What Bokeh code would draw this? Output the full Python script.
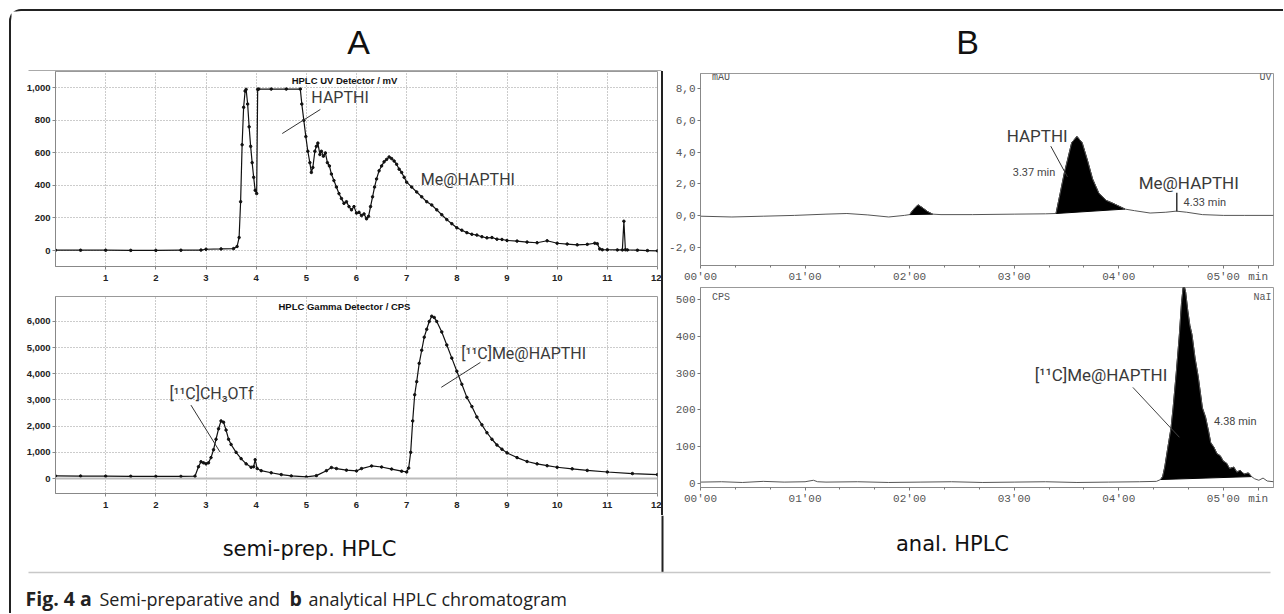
from bokeh.plotting import figure
from bokeh.layouts import column, row
from bokeh.models import (Range1d, FixedTicker, NumeralTickFormatter,
                          CustomJSTickFormatter, Span, Spacer)
from bokeh.core.properties import value
from bokeh.embed import file_html
from bokeh.resources import INLINE

# ---------------- data ----------------
# A: semi-preparative HPLC, UV detector (time in min, signal in mV)
a_uv_time = [0.0, 0.5, 1.0, 1.5, 2.0, 2.5, 2.9, 3.0, 3.3, 3.55, 3.62, 3.66, 3.69, 3.72, 3.75,
             3.78, 3.80, 3.83, 3.86, 3.89, 3.92, 3.95, 3.98, 4.01, 4.03, 4.05, 4.3, 4.6, 4.88,
             4.91, 4.95, 4.99, 5.03, 5.07, 5.10, 5.13, 5.17, 5.20, 5.23, 5.27, 5.30, 5.34, 5.38,
             5.42, 5.46, 5.50, 5.55, 5.60, 5.65, 5.70, 5.75, 5.80, 5.85, 5.90, 5.95, 6.00, 6.05,
             6.10, 6.15, 6.20, 6.24, 6.28, 6.32, 6.36, 6.40, 6.45, 6.50, 6.55, 6.60, 6.65, 6.70,
             6.75, 6.80, 6.85, 6.90, 6.95, 7.00, 7.1, 7.2, 7.3, 7.4, 7.5, 7.6, 7.7, 7.8, 7.9, 8.0,
             8.1, 8.2, 8.3, 8.4, 8.5, 8.6, 8.7, 8.8, 8.9, 9.0, 9.2, 9.4, 9.6, 9.8, 10.0, 10.2,
             10.4, 10.6, 10.75, 10.8, 10.85, 10.9, 11.0, 11.2, 11.3, 11.33, 11.36, 11.4, 11.6,
             11.8, 12.0]
a_uv_mv = [2, 2, 2, 1, 1, 2, 3, 8, 10, 12, 25, 80, 300, 650, 880,
           980, 990, 900, 760, 640, 540, 450, 370, 350, 990, 992, 992, 992, 992,
           900, 800, 700, 610, 540, 480, 510, 610, 640, 660, 590, 610, 580, 600,
           540, 520, 470, 430, 390, 350, 320, 290, 300, 270, 250, 270, 230, 235,
           215, 225, 195, 210, 270, 330, 390, 440, 490, 520, 545, 560, 575, 565,
           550, 530, 500, 480, 450, 420, 390, 360, 330, 300, 280, 250, 220, 190, 165, 140,
           125, 110, 100, 95, 85, 78, 80, 70, 68, 62, 58, 52, 48, 60, 45, 40,
           35, 38, 45, 42, 10, 5, 5, 4, 4, 180, 5, 4, 2,
           0, -2]

# A: semi-preparative HPLC, gamma detector (CPS)
a_gamma_time = [0, 0.5, 1, 1.5, 2, 2.5, 2.78, 2.85, 2.9, 2.95, 3.0, 3.05, 3.1, 3.15, 3.2, 3.25,
                3.3, 3.35, 3.4, 3.45, 3.5, 3.6, 3.7, 3.8, 3.9, 3.95, 3.98, 4.02, 4.1, 4.3, 4.5,
                4.7, 5.0, 5.2, 5.4, 5.5, 5.6, 5.8, 6.0, 6.1, 6.3, 6.5, 6.7, 6.9, 7.0, 7.04, 7.08,
                7.12, 7.16, 7.2, 7.25, 7.3, 7.35, 7.4, 7.45, 7.5, 7.55, 7.6, 7.7, 7.8, 7.9, 8.0,
                8.1, 8.2, 8.3, 8.4, 8.5, 8.6, 8.7, 8.8, 8.9, 9.0, 9.2, 9.4, 9.6, 9.8, 10.0, 10.3,
                10.6, 11.0, 11.5, 12.0]
a_gamma_cps = [100, 95, 90, 85, 80, 80, 90, 450, 640, 600, 560, 600, 800, 1100, 1500, 1900,
               2200, 2150, 1850, 1500, 1300, 1000, 760, 560, 430, 450, 720, 380, 300, 220, 150,
               100, 60, 110, 300, 420, 380, 320, 290, 380, 480, 440, 360, 280, 250, 400, 1000,
               2200, 3200, 3700, 4400, 4900, 5400, 5700, 6000, 6200, 6150, 6000, 5600, 5100, 4600, 4100,
               3600, 3100, 2750, 2350, 2050, 1750, 1500, 1280, 1120, 980, 800, 650, 560, 490, 430, 370,
               310, 250, 190, 150]

# B: analytical HPLC, UV detector (time in min, signal in mAU)
b_uv_time = [0.0, 0.3, 0.6, 0.9, 1.2, 1.4, 1.6, 1.8, 1.95, 2.0, 2.04, 2.08, 2.12, 2.17, 2.22,
             2.3, 2.6, 3.0, 3.3, 3.40, 3.44, 3.48, 3.51, 3.55, 3.60, 3.65, 3.70, 3.75, 3.81,
             3.88, 3.95, 4.06, 4.15, 4.3, 4.45, 4.55, 4.65, 4.8, 5.0, 5.2, 5.48]
b_uv_mau = [-0.05, -0.1, -0.05, 0.0, 0.08, 0.12, 0.03, -0.1, 0.0, 0.05, 0.4, 0.67, 0.5, 0.25, 0.08,
            0.05, 0.05, 0.08, 0.1, 0.12, 1.4, 2.7, 3.5, 4.6, 5.0, 4.6, 3.5, 2.3, 1.4,
            0.95, 0.75, 0.4, 0.3, 0.15, 0.2, 0.27, 0.2, 0.05, 0.0, 0.0, 0.0]
b_uv_peaks = [(2.0, 2.22), (3.40, 4.06)]

# B: analytical HPLC, NaI gamma detector (CPS)
b_gamma_time = [0.0, 0.2, 0.4, 0.6, 0.8, 1.0, 1.08, 1.12, 1.2, 1.5, 1.8, 2.1, 2.4, 2.7, 3.0, 3.3,
                3.6, 3.9, 4.2, 4.36, 4.40, 4.42, 4.44, 4.47, 4.50, 4.52, 4.55, 4.58, 4.60, 4.62,
                4.64, 4.66, 4.68, 4.70, 4.73, 4.76, 4.80, 4.83, 4.86, 4.88, 4.91, 4.94, 4.97,
                5.00, 5.03, 5.06, 5.10, 5.13, 5.16, 5.20, 5.24, 5.27, 5.30, 5.34, 5.38, 5.42, 5.48]
b_gamma_cps = [3, 4, 2, 5, 3, 4, 8, 4, 3, 4, 2, 3, 4, 2, 3, 4,
               2, 3, 4, 5, 10, 18, 44, 98, 150, 205, 300, 405, 490, 545,
               520, 470, 430, 405, 340, 290, 205, 180, 140, 110, 98, 80, 75,
               60, 55, 40, 44, 30, 35, 25, 28, 18, 12, 8, 14, 6, 4]
b_gamma_peaks = [(4.40, 5.27)]

# ticks
a_x_ticks = [1, 2, 3, 4, 5, 6, 7, 8, 9, 10, 11, 12]
a_uv_y_ticks = [0, 200, 400, 600, 800, 1000]
a_gamma_y_ticks = [0, 1000, 2000, 3000, 4000, 5000, 6000]
b_x_ticks = [0, 1, 2, 3, 4, 5, 5.3333]
b_x_minor = [0.3333, 0.6667, 1.3333, 1.6667, 2.3333, 2.6667, 3.3333, 3.6667, 4.3333, 4.6667]
b_uv_y_ticks = [-2, 0, 2, 4, 6, 8]
b_gamma_y_ticks = [0, 100, 200, 300, 400, 500]

# ---------------- helpers ----------------
LBL = "Roboto"
MONO = "Liberation Mono"
SANS = "Liberation Sans"


def make_fig(width, height, x_rng, y_rng, left, right, top, bottom):
    p = figure(width=width, height=height, x_range=Range1d(*x_rng), y_range=Range1d(*y_rng),
               output_backend="svg", toolbar_location=None, tools="",
               min_border_left=left, min_border_right=right,
               min_border_top=top, min_border_bottom=bottom)
    p.background_fill_color = "white"
    p.border_fill_color = "white"
    return p


def txt(p, x, y, s, size, font=LBL, align="left", baseline="middle", color="#3a3a3a",
        style="normal"):
    p.text(x=[x], y=[y], text=[s], text_font=value(font), text_font_size=size,
           text_align=align, text_baseline=baseline, text_color=color, text_font_style=style)


def bare(p):
    p.axis.visible = False
    p.grid.visible = False
    p.outline_line_color = None


def style_a(p, yticks):
    p.xaxis.ticker = FixedTicker(ticks=a_x_ticks)
    p.yaxis.ticker = FixedTicker(ticks=yticks)
    p.yaxis.formatter = NumeralTickFormatter(format="0,0")
    p.xgrid.ticker = FixedTicker(ticks=a_x_ticks)
    p.ygrid.ticker = FixedTicker(ticks=yticks)
    p.grid.grid_line_color = "#999999"
    p.grid.grid_line_dash = "1 2"
    p.axis.axis_line_color = "#888888"
    p.axis.major_tick_line_color = "#888888"
    p.axis.major_tick_in = 0
    p.axis.major_tick_out = 3
    p.axis.minor_tick_line_color = None
    p.axis.major_label_text_font = SANS
    p.axis.major_label_text_font_style = "bold"
    p.axis.major_label_text_font_size = "9.5px"
    p.axis.major_label_text_color = "#222222"
    p.yaxis.major_label_standoff = 2
    p.xaxis.major_label_standoff = 5
    p.outline_line_color = "#999999"


def style_b(p, yticks, yfmt=None):
    p.xaxis.ticker = FixedTicker(ticks=b_x_ticks, minor_ticks=b_x_minor)
    p.xaxis.formatter = CustomJSTickFormatter(
        code="if (tick > 5.2) { return 'min'; } return '0' + Math.round(tick) + \"'00\";")
    p.yaxis.ticker = FixedTicker(ticks=yticks)
    if yfmt is not None:
        p.yaxis.formatter = yfmt
    p.grid.visible = False
    p.axis.axis_line_color = "#888888"
    p.axis.major_tick_line_color = "#777777"
    p.axis.minor_tick_line_color = "#777777"
    p.axis.major_tick_in = 0
    p.axis.major_tick_out = 3
    p.axis.minor_tick_in = 0
    p.axis.minor_tick_out = 2
    p.axis.major_label_text_font = MONO
    p.axis.major_label_text_font_size = "11px"
    p.axis.major_label_text_color = "#555555"
    p.axis.major_label_standoff = 2
    p.outline_line_color = "#999999"


def fill_peaks(p, t, v, windows):
    for lo, hi in windows:
        xs = [a for a, b in zip(t, v) if lo <= a <= hi]
        ys = [b for a, b in zip(t, v) if lo <= a <= hi]
        p.patch(xs, ys, color="black")


# ---------------- header ----------------
header = make_fig(1272, 60, (11, 1283), (71, 11), 0, 0, 0, 0)
bare(header)
txt(header, 358, 41, "A", "34px", font=SANS, align="center", color="#111111")
txt(header, 967, 41, "B", "34px", font=SANS, align="center", color="#111111")
header.segment(x0=[28], y0=[70.5], x1=[661], y1=[70.5], line_color="#555555", line_width=1)

# ---------------- A top: UV ----------------
pa1 = make_fig(650, 219, (0, 12), (-98, 1100), 44, 4, 0, 24)
style_a(pa1, a_uv_y_ticks)
pa1.line(a_uv_time, a_uv_mv, line_color="#111111", line_width=1.2)
pa1.scatter(a_uv_time, a_uv_mv, size=2.5, color="#111111")
txt(pa1, 5.76, 1045, "HPLC UV Detector / mV", "9.5px", font=SANS, align="center",
    color="#111111", style="bold")
txt(pa1, 5.1, 940, "HAPTHI", "16px")
pa1.segment(x0=[4.52], y0=[719], x1=[5.28], y1=[867], line_color="#333333", line_width=1)
txt(pa1, 7.28, 436, "Me@HAPTHI", "16px")

# ---------------- A bottom: gamma ----------------
pa2 = make_fig(650, 225, (0, 12), (-572, 6953), 44, 4, 6, 22)
style_a(pa2, a_gamma_y_ticks)
pa2.add_layout(Span(location=0, dimension="width", line_color="#bbbbbb", line_width=2))
pa2.line(a_gamma_time, a_gamma_cps, line_color="#111111", line_width=1.2)
pa2.scatter(a_gamma_time, a_gamma_cps, size=2.5, color="#111111")
txt(pa2, 5.76, 6553, "HPLC Gamma Detector / CPS", "9.5px", font=SANS, align="center",
    color="#111111", style="bold")
txt(pa2, 8.09, 4780, "[¹¹C]Me@HAPTHI", "16px")
pa2.segment(x0=[7.69], y0=[3483], x1=[8.47], y1=[4436], line_color="#333333", line_width=1)
txt(pa2, 2.27, 3254, "[¹¹C]CH₃OTf", "16px")
pa2.segment(x0=[2.70], y0=[2804], x1=[3.28], y1=[1011], line_color="#333333", line_width=1)

colA = column(pa1, pa2)

# ---------------- B top: UV ----------------
pb1 = make_fig(620, 214, (0, 5.48), (-3.17, 8.98), 37, 10, 2, 19)
style_b(pb1, b_uv_y_ticks,
        CustomJSTickFormatter(code="return tick.toFixed(1).replace('.', ',');"))
fill_peaks(pb1, b_uv_time, b_uv_mau, b_uv_peaks)
pb1.line(b_uv_time, b_uv_mau, line_color="#555555", line_width=1)
txt(pb1, 0.11, 8.72, "mAU", "10px", font=MONO, color="#555555")
txt(pb1, 5.46, 8.72, "UV", "10px", font=MONO, align="right", color="#555555")
txt(pb1, 3.22, 5.01, "HAPTHI", "17px", align="center")
pb1.segment(x0=[3.35], y0=[4.38], x1=[3.51], y1=[2.43], line_color="#333333", line_width=1)
txt(pb1, 3.19, 2.70, "3.37 min", "11px", align="center", color="#444444")
txt(pb1, 4.67, 2.08, "Me@HAPTHI", "17px", align="center")
pb1.segment(x0=[4.555], y0=[1.43], x1=[4.555], y1=[0.25], line_color="#333333", line_width=1.5)
txt(pb1, 4.62, 0.82, "4.33 min", "11px", color="#444444")

# ---------------- B bottom: gamma ----------------
pb2 = make_fig(620, 230, (0, 5.48), (-11.7, 533), 37, 10, 2, 28)
style_b(pb2, b_gamma_y_ticks)
fill_peaks(pb2, b_gamma_time, b_gamma_cps, b_gamma_peaks)
pb2.line(b_gamma_time, b_gamma_cps, line_color="#555555", line_width=1)
txt(pb2, 0.11, 506, "CPS", "10px", font=MONO, color="#555555")
txt(pb2, 5.46, 506, "NaI", "10px", font=MONO, align="right", color="#555555")
txt(pb2, 3.83, 296, "[¹¹C]Me@HAPTHI", "17px", align="center")
pb2.segment(x0=[4.135], y0=[261], x1=[4.58], y1=[125], line_color="#444444", line_width=1)
txt(pb2, 5.115, 169, "4.38 min", "11px", align="center", color="#444444")

colB = column(pb1, pb2)

divider = Spacer(width=2, height=444, styles={"background-color": "#222222"})

# ---------------- footer ----------------
footer = make_fig(1272, 98, (11, 1283), (613, 515), 0, 0, 0, 0)
bare(footer)
footer.segment(x0=[662], y0=[515], x1=[662], y1=[572], line_color="#222222", line_width=2)
footer.segment(x0=[28], y0=[572], x1=[1270], y1=[572], line_color="#c8c8c8", line_width=1.5)
txt(footer, 309, 548, "semi-prep. HPLC", "21px", font="DejaVu Sans", align="center",
    color="#111111")
txt(footer, 952, 543, "anal. HPLC", "21px", font="DejaVu Sans", align="center",
    color="#111111")
txt(footer, 25, 598, "Fig. 4 a", "19.5px", font="Open Sans", color="#222222", style="bold")
txt(footer, 99, 598, "Semi-preparative and", "18px", font="Open Sans", color="#222222")
txt(footer, 289, 598, "b", "19.5px", font="Open Sans", color="#222222", style="bold")
txt(footer, 308, 598, "analytical HPLC chromatogram", "18px", font="Open Sans",
    color="#222222")

root = column(header, row(colA, divider, colB), footer,
              styles={"margin-left": "9px", "margin-top": "9px",
                      "border-left": "2px solid #222222", "border-top": "2px solid #222222",
                      "border-top-left-radius": "12px"})

open("out.html", "w").write(file_html(root, INLINE))
